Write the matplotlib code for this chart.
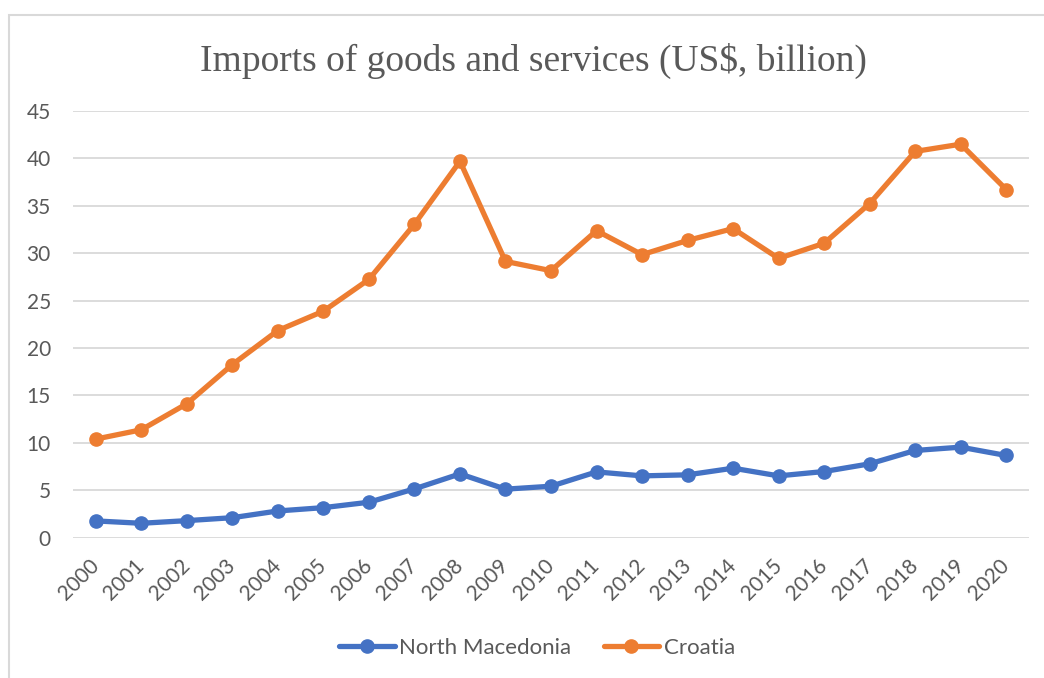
import matplotlib
matplotlib.use("Agg")
import matplotlib.pyplot as plt
from matplotlib.patches import Rectangle

years = [str(y) for y in range(2000, 2021)]
north_macedonia = [1.77, 1.52, 1.80, 2.11, 2.82, 3.17, 3.74, 5.15, 6.73, 5.12, 5.43,
                   6.94, 6.52, 6.63, 7.33, 6.52, 6.98, 7.79, 9.20, 9.55, 8.67]
croatia = [10.40, 11.38, 14.13, 18.26, 21.85, 23.89, 27.24, 33.06, 39.70, 29.14, 28.16,
           32.38, 29.85, 31.35, 32.60, 29.46, 31.05, 35.24, 40.74, 41.50, 36.72]
title = "Imports of goods and services (US$, billion)"
yticks = [0, 5, 10, 15, 20, 25, 30, 35, 40, 45]

W, H = 1044, 678
fig = plt.figure(figsize=(W / 100, H / 100), dpi=100)
fig.patch.set_facecolor("white")

# chart-area border (partly outside the image, as in the reference)
fig.add_artist(Rectangle((9 / W, -0.05), 1.1, 1 - 15 / H + 0.05, transform=fig.transFigure,
                         fill=False, edgecolor="#D9D9D9", linewidth=1.5))

ax = fig.add_axes([73 / W, 1 - 537.7 / H, (1029 - 73) / W, (537.7 - 111) / H])
x = list(range(len(years)))
blue = "#4472C4"
orange = "#ED7D31"
ax.plot(x, north_macedonia, color=blue, lw=3.8, marker="o", ms=9.5, label="North Macedonia",
        solid_capstyle="round", solid_joinstyle="round", zorder=3)
ax.plot(x, croatia, color=orange, lw=3.8, marker="o", ms=9.5, label="Croatia",
        solid_capstyle="round", solid_joinstyle="round", zorder=3)

ax.set_xlim(-0.5, len(years) - 0.5)
ax.set_ylim(0, 45)
ax.set_yticks(yticks)
ax.set_yticklabels([str(v) for v in yticks])
ax.set_xticks(x)
ax.set_xticklabels(years, rotation=45, ha="right", va="center", rotation_mode="anchor")
ax.grid(axis="y", color="#D9D9D9", lw=1.3)
ax.set_axisbelow(True)
for s in ax.spines.values():
    s.set_visible(False)
ax.tick_params(axis="both", length=0, labelsize=15, labelcolor="#595959")
ax.tick_params(axis="y", pad=16)
ax.tick_params(axis="x", pad=18)
for lab in ax.get_xticklabels() + ax.get_yticklabels():
    lab.set_fontfamily("Lato")

fig.text(533 / W, 1 - 61 / H, title, ha="center", va="center", fontsize=27,
         family="Liberation Serif", color="#595959")

leg = fig.legend(loc="center", bbox_to_anchor=(537 / W, 1 - 648 / H), ncol=2, frameon=False,
                 prop={"family": "Lato", "size": 16}, handlelength=2.5, handletextpad=0.2,
                 columnspacing=1.45, labelcolor="#595959")
plt.savefig("out.png", dpi=100)
